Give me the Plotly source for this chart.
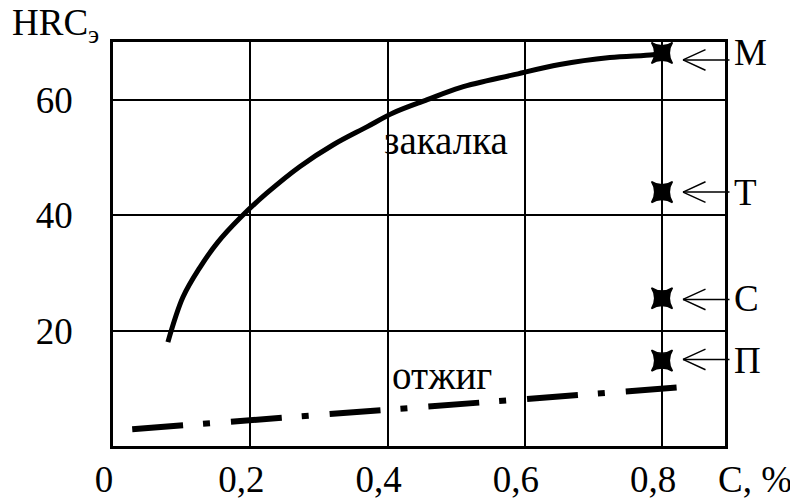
import plotly.graph_objects as go

# --- data ---
quench_c = [0.080, 0.102, 0.127, 0.152, 0.185, 0.224, 0.272, 0.321, 0.370, 0.408,
            0.458, 0.506, 0.583, 0.651, 0.724, 0.787, 0.800]
quench_hrc = [18.0, 25.8, 31.0, 35.2, 39.5, 43.8, 48.4, 52.2, 55.3, 57.7,
              60.0, 62.1, 64.3, 66.1, 67.3, 67.8, 68.1]
anneal_c = [0.028, 0.828]
anneal_hrc = [2.9, 10.2]
struct_names = ["М", "Т", "С", "П"]
struct_c = [0.8, 0.8, 0.8, 0.8]
struct_hrc = [68.1, 44.0, 25.6, 14.8]
arrow_hrc = [66.9, 44.0, 25.4, 15.0]
x_ticks = [0, 0.2, 0.4, 0.6, 0.8]
x_ticktext = ["0", "0,2", "0,4", "0,6", "0,8"]
y_ticks = [20, 40, 60]
y_ticktext = ["20", "40", "60"]

FONT = "Liberation Serif"
FS = 37
FS_WORD = 39

fig = go.Figure()
fig.add_trace(go.Scatter(x=quench_c, y=quench_hrc, mode="lines",
                         line=dict(color="black", width=5, shape="spline"),
                         showlegend=False, hoverinfo="skip"))
fig.add_trace(go.Scatter(x=anneal_c, y=anneal_hrc, mode="lines",
                         line=dict(color="black", width=6, dash="51px,20px,7px,21px"),
                         showlegend=False, hoverinfo="skip"))
fig.add_trace(go.Scatter(x=struct_c, y=struct_hrc, mode="markers",
                         marker=dict(symbol="star-square", size=19, color="black",
                                     line=dict(color="black", width=1.5)),
                         showlegend=False, hoverinfo="skip", cliponaxis=False))

annotations = []
for name, yv, ya in zip(struct_names, struct_hrc, arrow_hrc):
    for dx, dy in [(48, 0), (24, -11), (24, 11)]:
        annotations.append(dict(x=0.8, y=ya, xref="x", yref="y", text="", showarrow=True,
                                xshift=21, ax=dx, ay=dy, arrowhead=0,
                                arrowwidth=1.5, arrowcolor="black"))
    annotations.append(dict(x=0.8, y=yv, xref="x", yref="y", text=name, showarrow=False,
                            xanchor="left", xshift=70, yanchor="middle",
                            font=dict(family=FONT, size=FS, color="black")))

annotations.append(dict(x=0.485, y=53.0, xref="x", yref="y", text="закалка", showarrow=False,
                        font=dict(family=FONT, size=FS_WORD, color="black")))
annotations.append(dict(x=0.479, y=12.2, xref="x", yref="y", text="отжиг", showarrow=False,
                        font=dict(family=FONT, size=FS_WORD, color="black")))
annotations.append(dict(x=-0.168, y=1.104, xref="paper", yref="paper", text="HRC<sub>э</sub>",
                        showarrow=False, xanchor="left", yanchor="top",
                        font=dict(family=FONT, size=FS, color="black")))
annotations.append(dict(x=1.049, y=-0.084, xref="paper", yref="paper", text="C, %",
                        showarrow=False, xanchor="center", yanchor="middle",
                        font=dict(family=FONT, size=FS, color="black")))

fig.update_layout(
    width=798, height=499,
    margin=dict(l=105, r=81, t=34, b=61, autoexpand=False),
    paper_bgcolor="white", plot_bgcolor="white",
    annotations=annotations,
    font=dict(family=FONT, size=FS, color="black"),
)
fig.update_xaxes(range=[0, 0.8918], tickvals=x_ticks, ticktext=x_ticktext,
                 showgrid=True, gridcolor="black", gridwidth=2, automargin=False,
                 showline=True, linecolor="black", linewidth=2.5, mirror=True,
                 zeroline=False, ticks="", ticklabelshift=-9, ticklabelstandoff=-1,
                 tickfont=dict(family=FONT, size=FS, color="black"))
fig.update_yaxes(range=[0, 70], tickvals=y_ticks, ticktext=y_ticktext,
                 showgrid=True, gridcolor="black", gridwidth=2, automargin=False,
                 showline=True, linecolor="black", linewidth=2.5, mirror=True,
                 zeroline=False, ticks="", ticklabelstandoff=30,
                 tickfont=dict(family=FONT, size=FS, color="black"))

fig.write_html("out.html")
